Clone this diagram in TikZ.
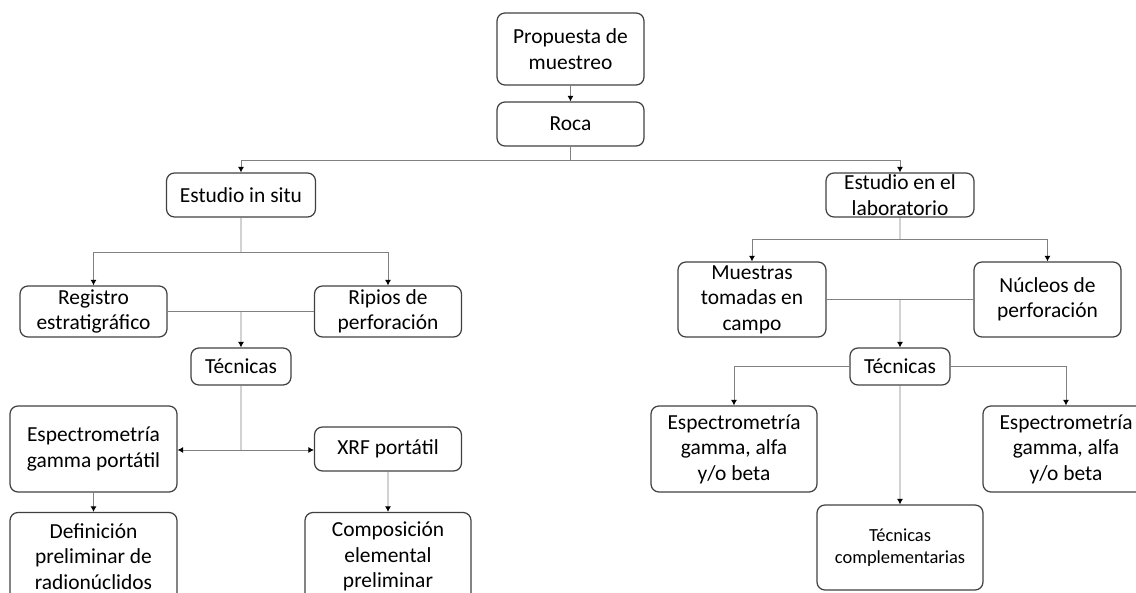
\documentclass[tikz,border=0pt]{standalone}
\usepackage{fontspec}
\setmainfont{Carlito}
\usetikzlibrary{arrows.meta}

\begin{document}
\begin{tikzpicture}[scale=0.2]
  \tikzstyle{every node}+=[inner sep=0pt]
  \tikzstyle{caja}=[draw=black!75, line width=0.7pt, rounded corners=0.16cm, align=center, font=\fontsize{12.2}{14.5}\selectfont]
  \tikzstyle{linea}=[draw=black!50, line width=0.5pt]
  \tikzstyle{flecha}=[linea, -{Latex[length=1.1mm,width=1.2mm,color=black]}]
  \clip (0,0) rectangle (113.6,-59.3);
  \node [caja, minimum width=2.94cm, minimum height=1.44cm] (prop) at (57.05,-4.9) {Propuesta de\\muestreo};
  \node [caja, minimum width=2.94cm, minimum height=0.88cm] (roca) at (57.05,-12.4) {Roca};
  \node [caja, minimum width=2.98cm, minimum height=0.88cm] (insitu) at (24.1,-19.5) {Estudio in situ};
  \node [caja, minimum width=2.96cm, minimum height=0.88cm] (lab) at (90.0,-19.5) {Estudio en el\\laboratorio};
  \node [caja, minimum width=2.94cm, minimum height=1.02cm] (reg) at (9.35,-31.15) {Registro\\estratigráfico};
  \node [caja, minimum width=2.94cm, minimum height=1.02cm] (rip) at (38.8,-31.15) {Ripios de\\perforación};
  \node [caja, minimum width=2.0cm, minimum height=0.74cm] (tecA) at (24.1,-36.65) {Técnicas};
  \node [caja, minimum width=3.34cm, minimum height=1.72cm] (espA) at (9.35,-44.9) {Espectrometría\\gamma portátil};
  \node [caja, minimum width=2.94cm, minimum height=0.88cm] (xrf) at (38.8,-44.9) {XRF portátil};
  \node [caja, minimum width=3.34cm, minimum height=1.76cm] (defA) at (9.35,-55.65) {Definición\\preliminar de\\radionúclidos};
  \node [caja, minimum width=3.32cm, minimum height=1.76cm] (comp) at (38.8,-55.65) {Composición\\elemental\\preliminar};
  \node [caja, minimum width=2.96cm, minimum height=1.5cm] (mue) at (75.2,-29.95) {Muestras\\tomadas en\\campo};
  \node [caja, minimum width=2.94cm, minimum height=1.5cm] (nuc) at (104.75,-29.95) {Núcleos de\\perforación};
  \node [caja, minimum width=2.0cm, minimum height=0.74cm] (tecB) at (90.0,-36.65) {Técnicas};
  \node [caja, minimum width=3.32cm, minimum height=1.72cm] (espB) at (73.4,-44.9) {Espectrometría\\gamma, alfa\\y/o beta};
  \node [caja, minimum width=3.32cm, minimum height=1.72cm] (espC) at (106.6,-44.9) {Espectrometría\\gamma, alfa\\y/o beta};
  \node [caja, minimum width=3.32cm, minimum height=1.7cm, font=\fontsize{10.5}{12.9}\selectfont] (comple) at (90.0,-54.75) {Técnicas\\complementarias};
  \coordinate (j1) at (57.05,-16.0);
  \coordinate (j2) at (24.1,-25.2);
  \coordinate (j3) at (24.1,-45.0);
  \coordinate (j4) at (90.0,-23.9);
  \draw [flecha] (prop) -- (roca);
  \draw [linea] (roca) -- (j1);
  \draw [flecha] (j1) -| (insitu);
  \draw [flecha] (j1) -| (lab);
  \draw [linea] (insitu) -- (j2);
  \draw [flecha] (j2) -| (reg);
  \draw [flecha] (j2) -| (rip);
  \draw [linea] (reg.east) -- (rip.west);
  \draw [flecha] (reg.east -| tecA) -- (tecA);
  \draw [linea] (tecA) -- (j3);
  \draw [flecha] (j3) -- (espA.east |- j3);
  \draw [flecha] (j3) -- (xrf.west |- j3);
  \draw [flecha] (espA) -- (defA);
  \draw [flecha] (xrf) -- (comp);
  \draw [linea] (lab) -- (j4);
  \draw [flecha] (j4) -| (mue);
  \draw [flecha] (j4) -| (nuc);
  \draw [linea] (mue.east) -- (nuc.west);
  \draw [flecha] (mue.east -| tecB) -- (tecB);
  \draw [flecha] (tecB) -| (espB);
  \draw [flecha] (tecB) -| (espC);
  \draw [flecha] (tecB) -- (comple);
\end{tikzpicture}
\end{document}
